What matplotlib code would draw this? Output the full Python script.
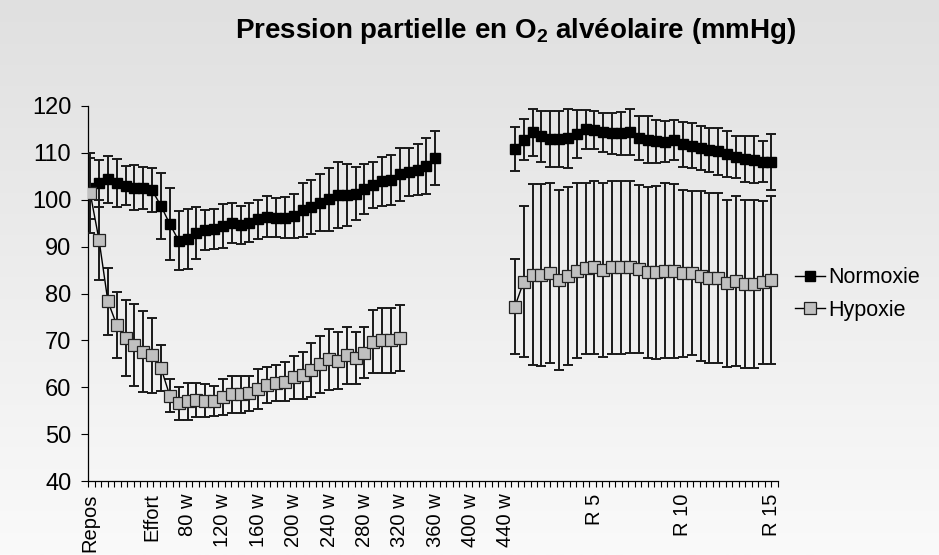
from matplotlib import rcParams, pyplot as plt
import numpy as np


rcParams.update({'font.family': 'Liberation Sans', 'mathtext.default': 'regular'})

# one point every 30 s, exercise then recovery
n_points = 78
recovery_start = 48

tick_pos = [0, 7, 11, 15, 19, 23, 27, 31, 35, 39, 43, 47, 57, 67, 77]
tick_labels = ['Repos', 'Effort', '80 w', '120 w', '160 w', '200 w', '240 w', '280 w',
               '320 w', '360 w', '400 w', '440 w', 'R 5', 'R 10', 'R 15']

normo_effort = [102.5, 103.5, 104.4, 103.6, 103.0, 102.6, 102.5, 102.0, 98.7, 94.8,
                91.3, 91.6, 92.9, 93.6, 93.8, 94.4, 95.0, 94.6, 95.1, 95.8,
                96.4, 96.2, 96.2, 96.6, 97.8, 98.5, 99.4, 100.1, 101.0, 101.1,
                101.3, 102.3, 103.1, 103.9, 104.2, 105.4, 106.0, 106.4, 107.2, 108.9]
normo_effort_sd = [6.5, 5.0, 5.0, 5.2, 4.1, 4.8, 4.5, 4.7, 7.0, 7.7,
                   6.3, 6.4, 5.6, 4.3, 4.3, 4.8, 4.3, 4.0, 4.2, 4.2,
                   4.3, 4.1, 4.4, 4.7, 5.8, 5.8, 6.0, 6.7, 7.0, 6.6,
                   5.6, 5.4, 4.9, 5.3, 5.3, 5.6, 5.1, 5.4, 5.9, 5.7]
normo_recup = [110.8, 112.8, 114.4, 113.5, 113.0, 113.0, 113.1, 114.0, 115.0, 114.9,
               114.4, 114.2, 114.2, 114.4, 113.1, 112.8, 112.5, 112.4, 112.8, 111.8,
               111.5, 111.0, 110.6, 110.3, 109.7, 109.2, 108.7, 108.5, 108.1, 108.1]
normo_recup_sd = [4.7, 4.4, 5.0, 5.5, 6.0, 6.0, 6.3, 5.1, 4.2, 4.0,
                  4.2, 4.4, 4.6, 4.9, 4.7, 5.0, 4.6, 4.3, 4.3, 4.8,
                  4.8, 4.7, 4.7, 5.0, 4.9, 4.5, 5.0, 5.0, 4.4, 6.0]

hypo_effort = [101.4, 91.4, 78.3, 73.3, 70.6, 69.0, 67.6, 66.8, 64.1, 58.2,
               56.6, 57.0, 57.3, 57.1, 57.1, 57.9, 58.5, 58.5, 58.7, 59.6,
               60.5, 60.9, 61.2, 62.1, 62.6, 63.7, 64.9, 66.0, 65.7, 66.8,
               66.2, 67.4, 69.7, 70.0, 70.0, 70.5]
hypo_effort_sd = [8.5, 8.5, 7.1, 7.0, 8.1, 8.7, 8.6, 8.0, 5.0, 3.5,
                  3.5, 4.0, 3.7, 3.5, 3.2, 3.8, 3.9, 3.9, 3.7, 4.3,
                  3.9, 3.9, 4.1, 4.5, 5.0, 5.7, 6.1, 6.5, 6.0, 6.1,
                  5.5, 5.5, 6.7, 7.0, 7.0, 7.0]
hypo_recup = [77.2, 82.5, 84.0, 84.0, 84.3, 82.9, 83.8, 84.9, 85.4, 85.6,
              85.0, 85.6, 85.6, 85.6, 85.2, 84.5, 84.5, 84.9, 84.8, 84.3,
              84.3, 83.8, 83.3, 83.3, 82.2, 82.7, 82.0, 82.0, 82.4, 82.9]
hypo_recup_sd = [10.2, 16.1, 19.3, 19.4, 19.2, 19.2, 19.0, 18.7, 18.2, 18.4,
                 18.6, 18.5, 18.5, 18.3, 17.9, 18.2, 18.4, 18.6, 18.6, 17.8,
                 17.5, 18.1, 18.2, 18.2, 17.8, 18.2, 17.9, 17.9, 17.4, 18.0]


def full_series(effort, recup):
    s = np.full(n_points, np.nan)
    s[:len(effort)] = effort
    s[recovery_start:recovery_start + len(recup)] = recup
    return s


x = np.arange(n_points)
normo = full_series(normo_effort, normo_recup)
normo_sd = full_series(normo_effort_sd, normo_recup_sd)
hypo = full_series(hypo_effort, hypo_recup)
hypo_sd = full_series(hypo_effort_sd, hypo_recup_sd)

fig = plt.figure(figsize=(9.39, 5.55), dpi=100)

# grey -> white gradient behind everything
bg = fig.add_axes([0, 0, 1, 1], zorder=-10)
grad = np.linspace(0, 1, 256).reshape(-1, 1)
bg.imshow(grad, aspect='auto', cmap=plt.matplotlib.colors.LinearSegmentedColormap.from_list(
    'bg', ['#e0e0e0', '#fafafa']), extent=[0, 1, 0, 1], origin='upper')
bg.axis('off')

ax = fig.add_axes([88 / 939, 1 - 481 / 555, 690 / 939, 375 / 555])
ax.patch.set_alpha(0)

ax.errorbar(x, normo, yerr=normo_sd, fmt='none', ecolor='#1a1a1a', elinewidth=1.4,
            capsize=3.8, capthick=1.4, zorder=2)
ax.plot(x, normo, '-s', color='black', lw=1, ms=7.5, mfc='black', mec='black',
        label='Normoxie', zorder=3)
ax.errorbar(x, hypo, yerr=hypo_sd, fmt='none', ecolor='#1a1a1a', elinewidth=1.4,
            capsize=3.8, capthick=1.4, zorder=4)
ax.plot(x, hypo, '-s', color='black', lw=1, ms=8.4, mfc='#c0c0c0', mec='#222222',
        mew=0.9, label='Hypoxie', zorder=5)

ax.set_xlim(-0.25, 77.75)
ax.set_ylim(40, 120)
ax.set_yticks(np.arange(40, 121, 10))
ax.tick_params(axis='y', labelsize=17, direction='out', length=5, width=0.8, pad=7)

ax.set_xticks(tick_pos)
ax.set_xticklabels(tick_labels, rotation=90, va='top', ha='center')
ax.tick_params(axis='x', which='major', length=0, pad=9, labelsize=14.5)
ax.set_xticks(np.linspace(-0.25, 77.75, 107), minor=True)
ax.tick_params(axis='x', which='minor', direction='out', length=4, width=0.8)

for side in ['top', 'right']:
    ax.spines[side].set_visible(False)
for side in ['left', 'bottom']:
    ax.spines[side].set_linewidth(0.9)

fig.text(516 / 939, 1 - 31 / 555, 'Pression partielle en O$_{2}$ alvéolaire (mmHg)',
         ha='center', va='center', fontsize=20, fontweight='bold')

fig.legend(loc='center left', bbox_to_anchor=(795 / 939, 1 - 294 / 555), frameon=False,
           fontsize=15.5, handlelength=1.4, handletextpad=0.15, labelspacing=0.55,
           borderpad=0, borderaxespad=0)

plt.savefig('out.png', dpi=100)
